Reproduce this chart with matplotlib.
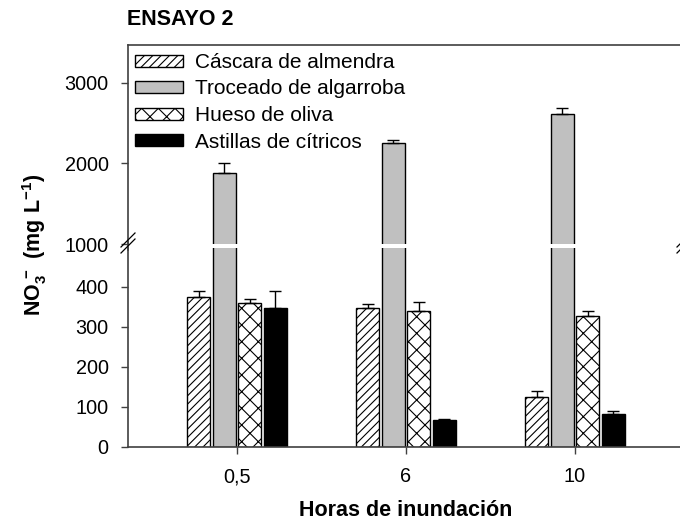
import matplotlib
matplotlib.use("Agg")
import matplotlib.pyplot as plt
from matplotlib.lines import Line2D
import numpy as np

plt.rcParams['font.family'] = ['Liberation Sans', 'DejaVu Sans']
plt.rcParams['mathtext.fontset'] = 'custom'
plt.rcParams['mathtext.rm'] = 'Liberation Sans'
plt.rcParams['mathtext.bf'] = 'Liberation Sans:bold'
plt.rcParams['hatch.linewidth'] = 0.8

horas = ["0,5", "6", "10"]
series = ["Cáscara de almendra", "Troceado de algarroba", "Hueso de oliva", "Astillas de cítricos"]
cascara = [376, 347, 124]
cascara_err = [13, 10, 17]
troceado = [1877, 2256, 2613]
troceado_err = [123, 37, 82]
hueso = [359, 340, 328]
hueso_err = [10, 22, 13]
astillas = [347, 68, 83]
astillas_err = [42, 2, 8]

values = [cascara, troceado, hueso, astillas]
errors = [cascara_err, troceado_err, hueso_err, astillas_err]
colors = ['white', '#c0c0c0', 'white', 'black']
hatches = ['////', None, 'xx', None]

W, H = 680, 523
fig = plt.figure(figsize=(6.8, 5.23), dpi=100)

def fx(px):
    return px / W

def fy(py):
    return 1 - py / H

left, right = 128, 684
# rect = [left, bottom, width, height] in figure fractions
ax_lo = fig.add_axes([fx(left), fy(447), fx(right - left), fy(248) - fy(447)])
ax_hi = fig.add_axes([fx(left), fy(244), fx(right - left), fy(45) - fy(244)])

x = np.arange(len(horas))
pitch = 0.151
width = 0.135
for ax in (ax_lo, ax_hi):
    for i, (vals, errs) in enumerate(zip(values, errors)):
        pos = x + (i - 1.5) * pitch
        ax.bar(pos, vals, width, color=colors[i], edgecolor='black', linewidth=1,
               hatch=hatches[i], label=series[i],
               yerr=[np.zeros(len(errs)), errs], capsize=4,
               error_kw=dict(elinewidth=1, capthick=1, ecolor='black'))
    ax.set_xlim(-0.645, 2.645)

ax_lo.set_ylim(0, 497.5)
ax_hi.set_ylim(1000, 3472)
ax_lo.set_yticks([0, 100, 200, 300, 400])
ax_hi.set_yticks([1000, 2000, 3000])
ax_lo.set_xticks(x)
ax_lo.set_xticklabels(horas)
ax_hi.set_xticks([])

spine_col = '#404040'
for ax in (ax_lo, ax_hi):
    ax.spines['right'].set_visible(False)
    for s in ax.spines.values():
        s.set_color(spine_col)
        s.set_linewidth(1.2)
    ax.tick_params(axis='both', labelsize=14.3, length=5, width=1, color=spine_col, pad=9)
ax_lo.spines['top'].set_visible(False)
ax_hi.spines['bottom'].set_visible(False)
ax_lo.tick_params(axis='x', pad=9.5)

# continuous left spine across the gap
fig.add_artist(Line2D([fx(left), fx(left)], [fy(250), fy(242)], color=spine_col, lw=1.2))
# break marks
for dy in (-3, 3):
    for bx in (left, right):
        fig.add_artist(Line2D([fx(bx - 7), fx(bx + 7)], [fy(250 + dy), fy(236 + dy)],
                              color='black', lw=0.9))

ax_hi.legend(loc='upper left', bbox_to_anchor=(fx(135), fy(53)), bbox_transform=fig.transFigure,
             frameon=False, fontsize=15, handlelength=2.3, handleheight=0.5,
             labelspacing=0.36, handletextpad=0.58, borderpad=0, borderaxespad=0)

fig.text(fx(127), fy(25), "ENSAYO 2", fontsize=15.5, fontweight='bold', ha='left', va='baseline')
fig.text(fx(406), fy(516), "Horas de inundación", fontsize=15.5, fontweight='bold',
         ha='center', va='baseline')
fig.text(fx(35), fy(245), r"$\mathbf{NO_3^{\,-}\ (mg\ L^{-1})}$", fontsize=15.5,
         rotation=90, ha='center', va='center')

fig.savefig("out.png", dpi=100)
